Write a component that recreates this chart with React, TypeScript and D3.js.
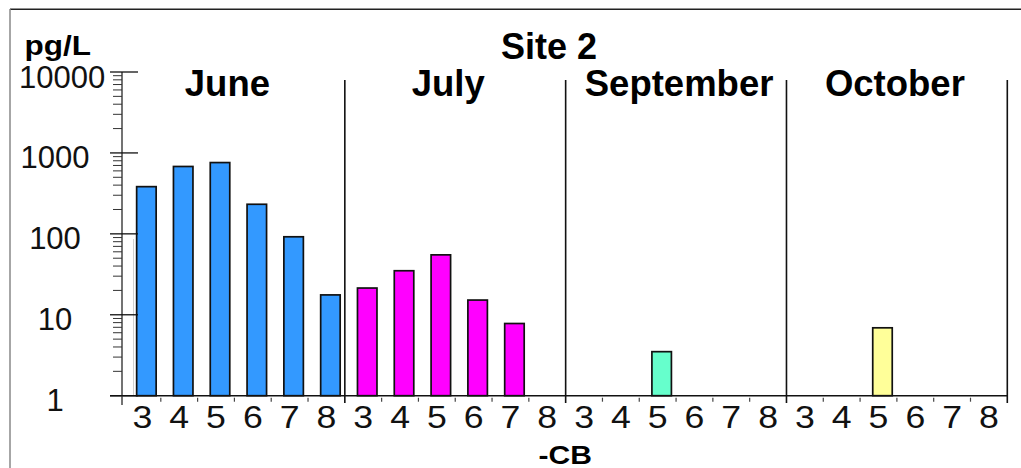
import React from "react";
import * as d3 from "d3";

// Congener groups (x categories), repeated for every sampling month
const congeners = ["3", "4", "5", "6", "7", "8"];
const months = ["June", "July", "September", "October"];
const monthColors = ["#3399FF", "#FF00FF", "#66FFCC", "#FFFF99"];

// Concentrations in pg/L per congener group; null = not detected
const juneValues: (number | null)[] = [383, 680, 760, 232, 92, 17.6];
const julyValues: (number | null)[] = [21.4, 35, 55, 15.2, 7.8, null];
const septemberValues: (number | null)[] = [null, null, 3.5, null, null, null];
const octoberValues: (number | null)[] = [null, null, 6.9, null, null, null];

const yTickValues = [1, 10, 100, 1000, 10000];

const W = 1021;
const H = 468;
const plotLeft = 124;
const plotRight = 1007.3;
const yAxisX = 122;
const yTop = 72;
const yBottom = 395.7;

export default function App() {
  const series = [juneValues, julyValues, septemberValues, octoberValues];

  const cells = months.flatMap((m, mi) =>
    congeners.map((c, ci) => ({
      key: `${m}-${c}`,
      month: m,
      monthIndex: mi,
      congener: c,
      value: series[mi][ci],
    }))
  );

  const x = d3
    .scaleBand<string>()
    .domain(cells.map((d) => d.key))
    .range([plotLeft, plotRight])
    .padding(0);

  const y = d3.scaleLog().domain([1, 10000]).range([yBottom, yTop]);

  const barW = x.bandwidth() * 0.53;
  const barShift = 4;

  // minor log ticks 2..9 in each decade
  const minorTicks: number[] = [];
  for (let dec = 1; dec < 10000; dec *= 10) {
    for (let k = 2; k <= 9; k++) minorTicks.push(dec * k);
  }

  const groupEdges = months.map((m) => x(`${m}-${congeners[0]}`)!);
  const dividerXs = [...groupEdges.slice(1), plotRight];
  const boundaryTicks = cells
    .slice(1)
    .filter((_, i) => (i + 1) % congeners.length !== 0)
    .map((d) => x(d.key)!);

  const groupCenter = (mi: number) => {
    const a = x(`${months[mi]}-${congeners[0]}`)!;
    const b = x(`${months[mi]}-${congeners[congeners.length - 1]}`)! + x.bandwidth();
    return (a + b) / 2;
  };
  const monthLabelShift = [-7, -7, 3, -2];

  const yFont = 31;
  const yLabelX = (t: number) => {
    const w = String(t).length * 0.556 * yFont;
    return Math.max(55, 19 + w / 2);
  };

  return (
    <svg
      width={W}
      height={H}
      style={{ position: "absolute", left: 0, top: 0, background: "#fff" }}
      fontFamily="Liberation Sans, Arial, sans-serif"
    >
      {/* frame */}
      <line x1={10} y1={9.3} x2={W} y2={9.3} stroke="#222" strokeWidth={1.5} />
      <line x1={10} y1={9} x2={10} y2={H} stroke="#888" strokeWidth={1.5} />

      {/* titles */}
      <text x={549} y={59} textAnchor="middle" fontSize={36} fontWeight="bold">
        Site 2
      </text>
      <text x={24.5} y={54.5} fontSize={27} fontWeight="bold" textLength={66.5} lengthAdjust="spacingAndGlyphs">
        pg/L
      </text>
      <text x={538.5} y={463.5} fontSize={25.5} fontWeight="bold" textLength={53.4} lengthAdjust="spacingAndGlyphs">
        -CB
      </text>

      {/* month labels */}
      {months.map((m, mi) => (
        <text
          key={m}
          x={groupCenter(mi) + monthLabelShift[mi]}
          y={95.5}
          textAnchor="middle"
          fontSize={36.5}
          fontWeight="bold"
        >
          {m}
        </text>
      ))}

      {/* faint guide */}
      <line x1={133.5} y1={239} x2={133.5} y2={yBottom} stroke="#d0d0d0" strokeWidth={1} />

      {/* bars */}
      {cells
        .filter((d) => d.value != null)
        .map((d) => {
          const cx = x(d.key)! + x.bandwidth() / 2 + barShift;
          const top = y(d.value as number);
          return (
            <rect
              key={d.key}
              x={cx - barW / 2}
              y={top}
              width={barW}
              height={yBottom - top}
              fill={monthColors[d.monthIndex]}
              stroke="#111"
              strokeWidth={1.7}
            />
          );
        })}

      {/* month dividers */}
      {dividerXs.map((dx, i) => (
        <line key={i} x1={dx} y1={80} x2={dx} y2={403} stroke="#111" strokeWidth={1.6} />
      ))}

      {/* category boundary ticks */}
      {boundaryTicks.map((tx, i) => (
        <line key={i} x1={tx} y1={yBottom + 2} x2={tx} y2={yBottom + 6} stroke="#444" strokeWidth={1.2} />
      ))}

      {/* x axis */}
      <line x1={110} y1={yBottom} x2={plotRight} y2={yBottom} stroke="#111" strokeWidth={1.6} />

      {/* y axis */}
      <line x1={yAxisX} y1={yTop} x2={yAxisX} y2={405} stroke="#444" strokeWidth={1.5} />
      {minorTicks.map((t) => (
        <line key={t} x1={113} y1={y(t)} x2={yAxisX} y2={y(t)} stroke="#333" strokeWidth={1} />
      ))}
      {yTickValues.map((t) => (
        <g key={t}>
          <line x1={110} y1={y(t)} x2={138} y2={y(t)} stroke="#111" strokeWidth={1.3} />
          <text x={yLabelX(t)} y={y(t) + 15.5} textAnchor="middle" fontSize={yFont} fill="#111">
            {t}
          </text>
        </g>
      ))}

      {/* x tick labels */}
      {cells.map((d) => {
        const cx = x(d.key)! + x.bandwidth() / 2;
        return (
          <text
            key={d.key}
            transform={`translate(${cx},428) scale(1.15,1)`}
            textAnchor="middle"
            fontSize={31}
            fill="#111"
          >
            {d.congener}
          </text>
        );
      })}
    </svg>
  );
}
